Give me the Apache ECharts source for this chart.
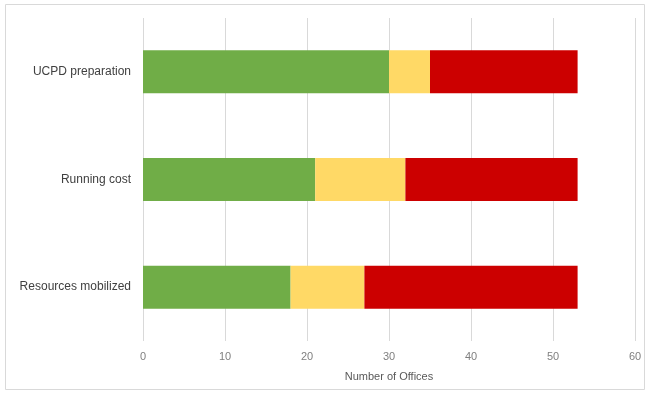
<!DOCTYPE html>
<html>
<head>
<meta charset="utf-8">
<script src="https://cdn.jsdelivr.net/npm/echarts@6/dist/echarts.min.js"></script>
<style>html,body{margin:0;padding:0;background:#fff;}#c{width:649px;height:394px;}</style>
</head>
<body>
<div id="c"></div>
<script>
const categories = ["UCPD preparation", "Running cost", "Resources mobilized"];
const greenValues = [30, 21, 18];
const yellowValues = [5, 11, 9];
const redValues = [18, 21, 26];
const xTicks = [0, 10, 20, 30, 40, 50, 60];

const chart = echarts.init(document.getElementById('c'));
const font = "'Liberation Sans', Arial, sans-serif";
function s(name, data, color) {
  return { name, type: 'bar', stack: 'total', data, barWidth: '40%',
    itemStyle: { color }, emphasis: { disabled: true } };
}
chart.setOption({
  animation: false,
  textStyle: { fontFamily: font },
  graphic: [{ type: 'rect', shape: { x: 5.5, y: 4.5, width: 639, height: 385 },
    style: { fill: 'none', stroke: '#d9d9d9', lineWidth: 1 }, silent: true }],
  grid: { left: 143, right: 14, top: 18, bottom: 53 },
  xAxis: {
    type: 'value', min: xTicks[0], max: xTicks[xTicks.length - 1], interval: 10,
    axisLine: { show: false }, axisTick: { show: false },
    splitLine: { lineStyle: { color: '#d9d9d9', width: 1 } },
    axisLabel: { color: '#7f7f7f', fontSize: 11, margin: 10, fontFamily: font },
    name: 'Number of Offices', nameLocation: 'middle', nameGap: 30,
    nameTextStyle: { color: '#595959', fontSize: 11, fontFamily: font }
  },
  yAxis: {
    type: 'category', data: categories, inverse: true,
    axisLine: { show: false }, axisTick: { show: false },
    axisLabel: { color: '#404040', fontSize: 12, margin: 12, fontFamily: font }
  },
  series: [
    s('Green', greenValues, '#70ad47'),
    s('Yellow', yellowValues, '#ffd966'),
    s('Red', redValues, '#cc0000')
  ]
});
</script>
</body>
</html>
